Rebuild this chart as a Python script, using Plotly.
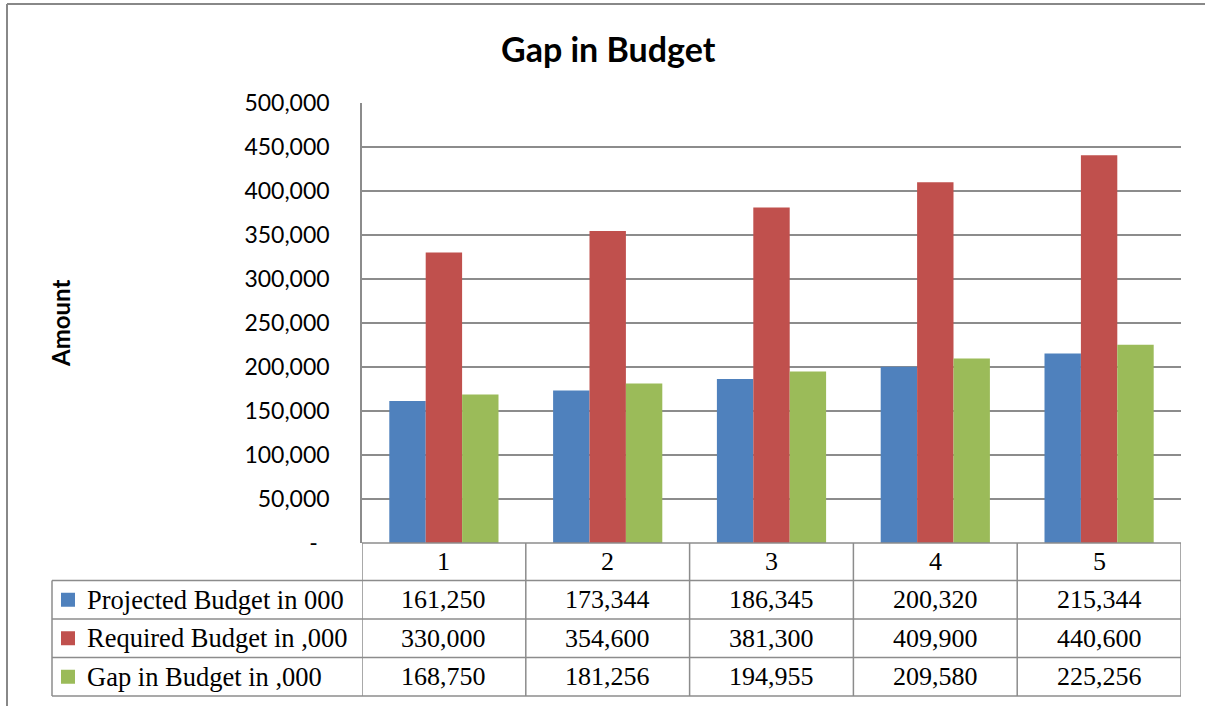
import plotly.graph_objects as go

# Budget figures for each period
periods = [1, 2, 3, 4, 5]
projected = [161250, 173344, 186345, 200320, 215344]
required = [330000, 354600, 381300, 409900, 440600]
gap = [168750, 181256, 194955, 209580, 225256]
series_names = ["Projected Budget in 000", "Required Budget in ,000", "Gap in Budget in ,000"]
series_colors = ["#4F81BD", "#C0504D", "#9BBB59"]
y_ticks = [0, 50000, 100000, 150000, 200000, 250000, 300000, 350000, 400000, 450000, 500000]
y_tick_labels = ["-\u00a0\u00a0", "50,000", "100,000", "150,000", "200,000", "250,000",
                 "300,000", "350,000", "400,000", "450,000", "500,000"]

W, H = 1205, 706
GRID = "#8c8c8c"
SANS = "Lato, 'Open Sans', sans-serif"
SERIF = "'Liberation Serif', 'Times New Roman', serif"


def px_x(p):
    return p / W


def px_y(p):
    return 1 - p / H


# plot area and data-table geometry (pixels)
plot_left, plot_right, plot_top, plot_bottom = 362, 1181, 103, 543
table_left = 52
row_edges = [543, 580.5, 619, 657.5, 696]

fig = go.Figure()
all_series = [projected, required, gap]
for name, vals, col in zip(series_names, all_series, series_colors):
    fig.add_trace(go.Bar(x=periods, y=vals, name=name, marker=dict(color=col, line=dict(width=0))))

shapes = []
line = dict(color=GRID, width=1.5)

# chart frame (left and top edges)
shapes.append(dict(type="line", xref="paper", yref="paper", x0=px_x(7), x1=1.0, y0=px_y(4), y1=px_y(4),
                   line=dict(color="#888888", width=2)))
shapes.append(dict(type="line", xref="paper", yref="paper", x0=px_x(7), x1=px_x(7), y0=px_y(4), y1=0,
                   line=dict(color="#888888", width=2)))

# data table horizontal rules
shapes.append(dict(type="line", xref="paper", yref="paper", x0=px_x(plot_left), x1=px_x(plot_right),
                   y0=px_y(row_edges[0]), y1=px_y(row_edges[0]), line=line))
for r in row_edges[1:]:
    shapes.append(dict(type="line", xref="paper", yref="paper", x0=px_x(table_left), x1=px_x(plot_right),
                       y0=px_y(r), y1=px_y(r), line=line))
# data table vertical rules at category boundaries
for b in [p - 0.5 for p in periods] + [periods[-1] + 0.5]:
    shapes.append(dict(type="line", xref="x", yref="paper", x0=b, x1=b,
                       y0=px_y(row_edges[0]), y1=px_y(row_edges[-1]), line=line))
shapes.append(dict(type="line", xref="paper", yref="paper", x0=px_x(table_left), x1=px_x(table_left),
                   y0=px_y(row_edges[1]), y1=px_y(row_edges[-1]), line=line))

annotations = []
# title and axis title
annotations.append(dict(text="<b>Gap in Budget</b>", x=px_x(608), y=px_y(49), xref="paper", yref="paper",
                        showarrow=False, xanchor="center", yanchor="middle",
                        font=dict(family=SANS, size=34, color="black")))
annotations.append(dict(text="<b>Amount</b>", x=px_x(60), y=px_y(323), xref="paper", yref="paper",
                        showarrow=False, textangle=-90, xanchor="center", yanchor="middle",
                        font=dict(family=SANS, size=24, color="black")))

# header row with period numbers
hdr_y = (row_edges[0] + row_edges[1]) / 2
for p in periods:
    annotations.append(dict(text=str(p), x=p, y=px_y(hdr_y), xref="x", yref="paper", showarrow=False,
                            xanchor="center", yanchor="middle", font=dict(family=SERIF, size=26, color="black")))

# series rows: legend key, name and values
for i, (name, vals, col) in enumerate(zip(series_names, all_series, series_colors)):
    cy = (row_edges[i + 1] + row_edges[i + 2]) / 2
    shapes.append(dict(type="rect", xref="paper", yref="paper", x0=px_x(61), x1=px_x(75),
                       y0=px_y(cy - 7), y1=px_y(cy + 7), fillcolor=col, line=dict(width=0)))
    annotations.append(dict(text=name, x=px_x(85), y=px_y(cy), xref="paper", yref="paper", showarrow=False,
                            xanchor="left", yanchor="middle", font=dict(family=SERIF, size=26.5, color="black")))
    for p, v in zip(periods, vals):
        annotations.append(dict(text=f"{v:,}", x=p, y=px_y(cy), xref="x", yref="paper", showarrow=False,
                                xanchor="center", yanchor="middle",
                                font=dict(family=SERIF, size=26, color="black")))

fig.update_layout(
    width=W, height=H,
    autosize=False,
    margin=dict(l=0, r=0, t=0, b=0, pad=0, autoexpand=False),
    paper_bgcolor="white", plot_bgcolor="white",
    barmode="group", bargap=1 / 3, bargroupgap=0,
    showlegend=False,
    xaxis=dict(domain=[px_x(plot_left), px_x(plot_right)], range=[0.5, 5.5], automargin=False,
               showgrid=False, showticklabels=False, zeroline=False, showline=False, ticks=""),
    yaxis=dict(domain=[px_y(plot_bottom), px_y(plot_top)], range=[0, 500000], automargin=False,
               tickvals=y_ticks, ticktext=y_tick_labels, showgrid=True, gridcolor=GRID, gridwidth=1.5,
               zeroline=False, showline=True, linecolor=GRID, linewidth=1.5, ticks="",
               ticklabelstandoff=26, tickfont=dict(family=SANS, size=23, color="black")),
    shapes=shapes,
    annotations=annotations,
)

fig.write_html("out.html")
